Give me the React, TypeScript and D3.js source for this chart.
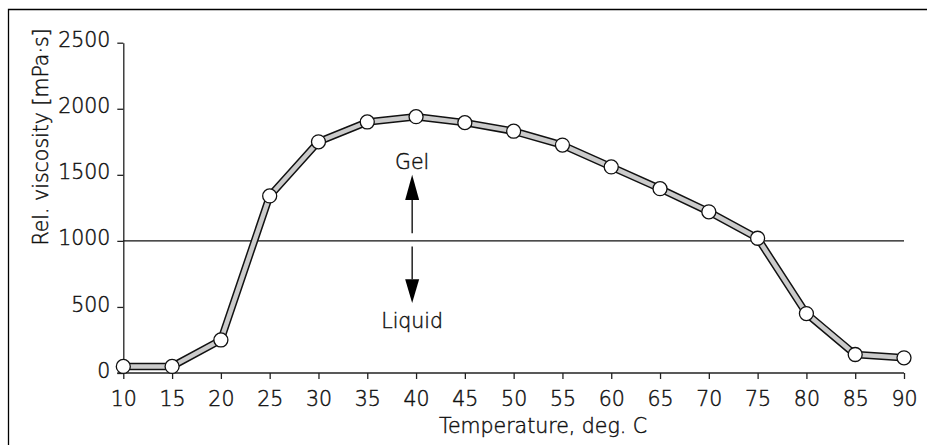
import React, { useEffect, useRef } from "react";
import * as d3 from "d3";

// temperature (deg. C) and relative viscosity (mPa·s)
const temps = [10, 15, 20, 25, 30, 35, 40, 45, 50, 55, 60, 65, 70, 75, 80, 85, 90];
const viscosity = [50, 50, 250, 1340, 1750, 1900, 1940, 1895, 1830, 1725, 1560, 1395, 1220, 1020, 450, 140, 115];
const xTicks = [10, 15, 20, 25, 30, 35, 40, 45, 50, 55, 60, 65, 70, 75, 80, 85, 90];
const yTicks = [0, 500, 1000, 1500, 2000, 2500];
const threshold = 1000;

const font = "'DejaVu Sans', sans-serif";
const weight = 200;
const fontSize = 20.5;

export default function App() {
  const ref = useRef<SVGSVGElement>(null);

  useEffect(() => {
    const svg = d3.select(ref.current);
    svg.selectAll("*").remove();
    const width = 927;
    const height = 445;
    const margin = { top: 42.7, right: 23, bottom: 72, left: 123.3 };

    const x = d3.scaleLinear().domain([10, 90]).range([margin.left, width - margin.right]);
    const y = d3.scaleLinear().domain([0, 2500]).range([height - margin.bottom, margin.top]);

    // frame of the figure, only its top and left edges are in view
    svg.append("path").attr("d", `M8.5,${height} V9.5 H${width}`).attr("fill", "none").attr("stroke", "#000").attr("stroke-width", 1.3);

    const styleText = (sel: any) =>
      sel.attr("font-family", font).attr("font-weight", weight).attr("font-size", fontSize)
        .attr("fill", "#111").attr("stroke", "#111").attr("stroke-width", 0.45);

    const yAxis = svg.append("g").attr("transform", `translate(${margin.left},0)`)
      .call(d3.axisLeft(y).tickValues(yTicks).tickFormat(d3.format("d")).tickSize(6).tickPadding(7).tickSizeOuter(0));
    const xAxis = svg.append("g").attr("transform", `translate(0,${y(0)})`)
      .call(d3.axisBottom(x).tickValues(xTicks).tickFormat(d3.format("d")).tickSize(6).tickPadding(12).tickSizeOuter(0));

    [xAxis, yAxis].forEach((g) => {
      g.select(".domain").attr("stroke", "#222").attr("stroke-width", 1.3);
      g.selectAll(".tick line").attr("stroke", "#222").attr("stroke-width", 1.3);
      styleText(g.selectAll("text"));
    });
    yAxis.selectAll("text").attr("dy", "0.2em");
    // x axis joins the y=0 tick on the left
    xAxis.select(".domain").attr("d", `M${margin.left - 6},0H${x(90)}`);

    svg.append("line").attr("x1", margin.left).attr("x2", x(90)).attr("y1", y(threshold)).attr("y2", y(threshold))
      .attr("stroke", "#111").attr("stroke-width", 1.3);

    // arrows for gel / liquid
    const ax = x(39.6);
    const arrow = (from: number, base: number, tip: number) => {
      svg.append("line").attr("x1", ax).attr("x2", ax).attr("y1", y(from)).attr("y2", y(base))
        .attr("stroke", "#000").attr("stroke-width", 1.3);
      svg.append("path").attr("d", `M${ax - 7},${y(base)} L${ax + 7},${y(base)} L${ax},${y(tip)} Z`).attr("fill", "#000");
    };
    arrow(1058, 1310, 1500);
    arrow(958, 710, 530);

    const label = (tx: number, ty: number, s: string) =>
      styleText(svg.append("text").attr("x", tx).attr("y", ty).attr("text-anchor", "middle").text(s));
    label(ax, y(1545), "Gel");
    label(ax, y(340), "Liquid");

    const data = temps.map((t, i) => ({ t, v: viscosity[i] }));
    const line = d3.line<{ t: number; v: number }>().x((d) => x(d.t)).y((d) => y(d.v));
    svg.append("path").datum(data).attr("d", line).attr("fill", "none").attr("stroke", "#111")
      .attr("stroke-width", 7.5).attr("stroke-linejoin", "round");
    svg.append("path").datum(data).attr("d", line).attr("fill", "none").attr("stroke", "#cbcbcb")
      .attr("stroke-width", 4.5).attr("stroke-linejoin", "round");
    svg.selectAll("circle.pt").data(data).join("circle").attr("class", "pt")
      .attr("cx", (d) => x(d.t)).attr("cy", (d) => y(d.v)).attr("r", 7)
      .attr("fill", "#fff").attr("stroke", "#111").attr("stroke-width", 1.3);

    label(543, 433, "Temperature, deg. C");
    label(0, 0, "Rel. viscosity [mPa·s]").attr("transform", `translate(48,137) rotate(-90)`);
  }, []);

  return (
    <svg ref={ref} width={927} height={445} style={{ position: "absolute", left: 0, top: 0, background: "#fff" }} />
  );
}
